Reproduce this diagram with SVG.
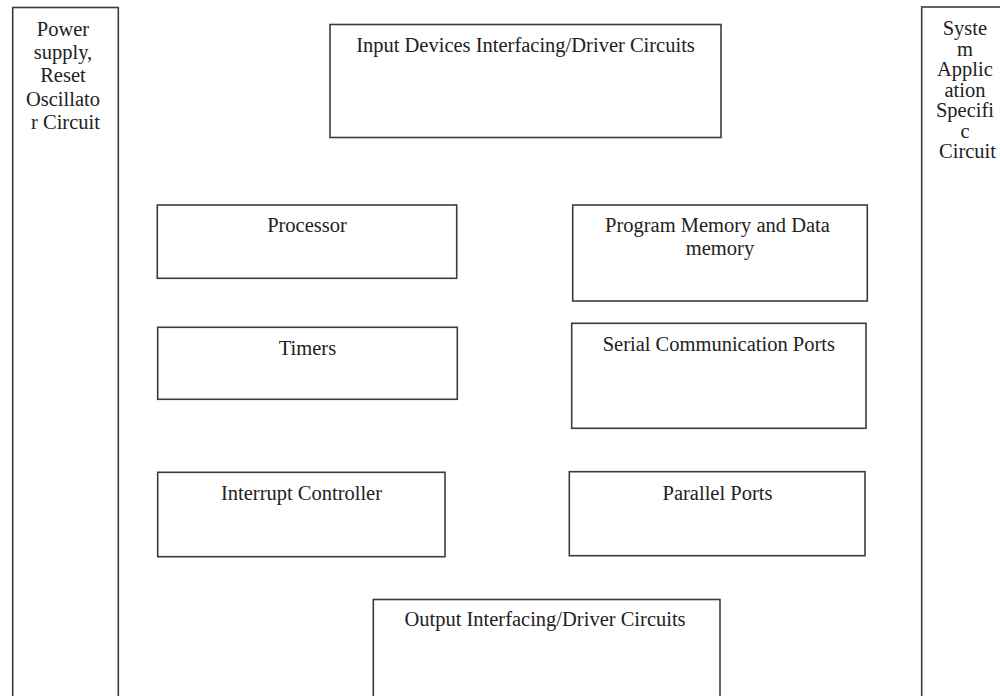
<svg xmlns="http://www.w3.org/2000/svg" width="1000" height="696" viewBox="0 0 1000 696">
  <style>
    .box { fill: #ffffff; stroke: #3c3c3c; stroke-width: 1.6; }
    .lbl { font-family: "Liberation Serif", "Times New Roman", serif; font-size: 20.5px; fill: #222222; text-anchor: middle; }
  </style>
  <rect x="0" y="0" width="1000" height="696" fill="#ffffff"/>

  <!-- side supply and application blocks -->
  <g id="power-supply">
    <rect class="box" x="12.7" y="7.5" width="105.6" height="692"/>
    <text class="lbl" x="65.5">
      <tspan x="65.5" y="36">Power</tspan>
      <tspan x="65.5" y="59">supply,</tspan>
      <tspan x="65.5" y="82">Reset</tspan>
      <tspan x="65.5" y="105.5">Oscillato</tspan>
      <tspan x="65.5" y="128.5">r Circuit</tspan>
    </text>
  </g>

  <g id="system-application">
    <rect class="box" x="921.7" y="7" width="92" height="692"/>
    <text class="lbl">
      <tspan x="967.5" y="35">Syste</tspan>
      <tspan x="967.5" y="55.5">m</tspan>
      <tspan x="967.5" y="76">Applic</tspan>
      <tspan x="967.5" y="96.5">ation</tspan>
      <tspan x="967.5" y="117">Specifi</tspan>
      <tspan x="967.5" y="137.5">c</tspan>
      <tspan x="967.5" y="158">Circuit</tspan>
    </text>
  </g>

  <!-- interfacing blocks -->
  <g id="input-devices">
    <rect class="box" x="330" y="24.5" width="391" height="113"/>
    <text class="lbl" x="525.5" y="51.5">Input Devices Interfacing/Driver Circuits</text>
  </g>

  <g id="output-interfacing">
    <rect class="box" x="373.3" y="599.5" width="346.7" height="100"/>
    <text class="lbl" x="545" y="626">Output Interfacing/Driver Circuits</text>
  </g>

  <!-- core blocks -->
  <g id="processor">
    <rect class="box" x="157.3" y="205" width="299.4" height="73.3"/>
    <text class="lbl" x="307" y="232">Processor</text>
  </g>

  <g id="memory">
    <rect class="box" x="572.7" y="205" width="294.6" height="96"/>
    <text class="lbl">
      <tspan x="720" y="232">Program Memory and Data</tspan>
      <tspan x="720" y="255">memory</tspan>
    </text>
  </g>

  <g id="timers">
    <rect class="box" x="157.7" y="327.3" width="299.6" height="72"/>
    <text class="lbl" x="307.5" y="355">Timers</text>
  </g>

  <g id="serial-ports">
    <rect class="box" x="571.7" y="323.3" width="294.3" height="105"/>
    <text class="lbl" x="718.8" y="351">Serial Communication Ports</text>
  </g>

  <g id="interrupt-controller">
    <rect class="box" x="157.7" y="472.3" width="287.3" height="84.4"/>
    <text class="lbl" x="301.5" y="500">Interrupt Controller</text>
  </g>

  <g id="parallel-ports">
    <rect class="box" x="569.3" y="471.7" width="295.7" height="84"/>
    <text class="lbl" x="717.5" y="500">Parallel Ports</text>
  </g>

  <!-- no connectors are drawn between the blocks -->
  <g id="connectors"></g>
</svg>
